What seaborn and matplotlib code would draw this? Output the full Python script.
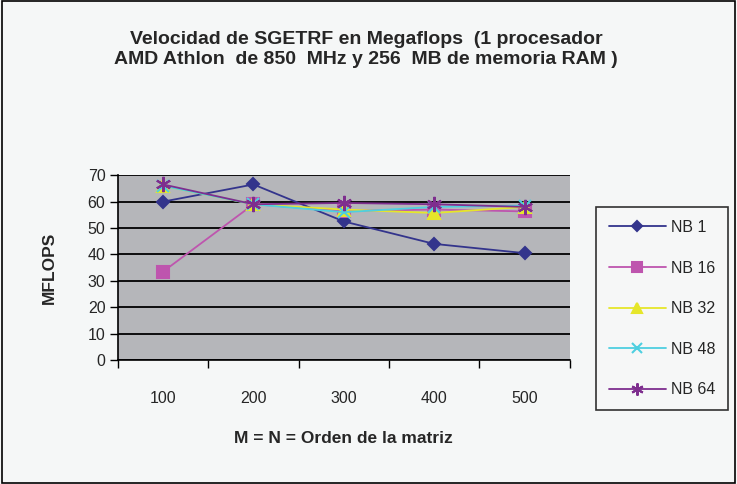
import numpy as np
import pandas as pd
import matplotlib
matplotlib.use("Agg")
import matplotlib.pyplot as plt
from matplotlib.ticker import FixedLocator
import seaborn as sns

# datos
tamanos = ["100", "200", "300", "400", "500"]
nb1 = [60.0, 66.5, 52.5, 44.0, 40.5]
nb16 = [33.5, 59.0, 56.5, 57.0, 56.3]
nb32 = [66.0, 59.0, 57.0, 55.7, 58.0]
nb48 = [66.0, 59.0, 56.0, 58.0, 58.5]
nb64 = [66.5, 59.0, 59.5, 59.0, 58.0]

series = {"NB 1": nb1, "NB 16": nb16, "NB 32": nb32, "NB 48": nb48, "NB 64": nb64}
colores = {"NB 1": "#33348C", "NB 16": "#BE55AE", "NB 32": "#E6E62A",
           "NB 48": "#4ECFE0", "NB 64": "#7E2E8E"}
marcadores = {"NB 1": "D", "NB 16": "s", "NB 32": "^", "NB 48": "x", "NB 64": (6, 2, 0)}
tam_marc = {"NB 1": 6, "NB 16": 9, "NB 32": 9, "NB 48": 9, "NB 64": 11}

sns.set_style("white")
plt.rcParams["font.family"] = ["Liberation Sans", "DejaVu Sans"]

fig = plt.figure(figsize=(7.37, 4.84), dpi=100, facecolor="#F5F7F7")
fig.patches.append(plt.Rectangle((0.003, 0.003), 0.994, 0.994, transform=fig.transFigure,
                                 fill=False, edgecolor="black", linewidth=1.2))
ax = fig.add_axes([0.160, 0.256, 0.613, 0.382])
ax.set_facecolor("#B5B6BA")

for nombre, valores in series.items():
    df = pd.DataFrame({"M": tamanos, "MFLOPS": valores})
    sns.lineplot(data=df, x="M", y="MFLOPS", ax=ax, color=colores[nombre],
                 marker=marcadores[nombre], markersize=tam_marc[nombre],
                 markeredgecolor=colores[nombre], markeredgewidth=1.5,
                 linewidth=1.3, label=nombre)

ax.set_xlim(-0.5, 4.5)
ax.set_ylim(0, 70)
ax.set_yticks(range(0, 71, 10))
ax.yaxis.grid(True, color="black", linewidth=1.3)
ax.set_axisbelow(True)
ax.xaxis.set_minor_locator(FixedLocator(np.arange(-0.5, 5, 1)))
ax.tick_params(axis="x", which="major", length=0, labelsize=11.5, pad=22)
ax.tick_params(axis="x", which="minor", length=6, width=1, color="black", direction="out")
ax.tick_params(axis="y", length=6, width=1, color="black", direction="out", labelsize=11.5, pad=3)
ax.xaxis.set_ticks_position("bottom")
ax.yaxis.set_ticks_position("left")
for lado in ["top", "right"]:
    ax.spines[lado].set_visible(False)
for lado in ["left", "bottom"]:
    ax.spines[lado].set_color("black")
    ax.spines[lado].set_linewidth(1.2)

ax.set_xlabel("M = N = Orden de la matriz", fontsize=12.5, fontweight="bold", labelpad=18)
ax.set_ylabel("MFLOPS", fontsize=12.5, fontweight="bold", labelpad=22)

fig.text(0.497, 0.898, "Velocidad de SGETRF en Megaflops  (1 procesador\nAMD Athlon  de 850  MHz y 256  MB de memoria RAM )",
         ha="center", va="center", fontsize=14, fontweight="bold", linespacing=1.25)

ley = ax.legend(loc="upper left", bbox_to_anchor=(1.04, 0.87), frameon=True, fancybox=False,
                edgecolor="black", facecolor="#F7F8F8", fontsize=11.5, labelspacing=1.6,
                handlelength=3.6, borderpad=0.8, handletextpad=0.3, markerscale=0.8)
ley.get_frame().set_linewidth(1.2)

fig.savefig("out.png", dpi=100, facecolor=fig.get_facecolor())
